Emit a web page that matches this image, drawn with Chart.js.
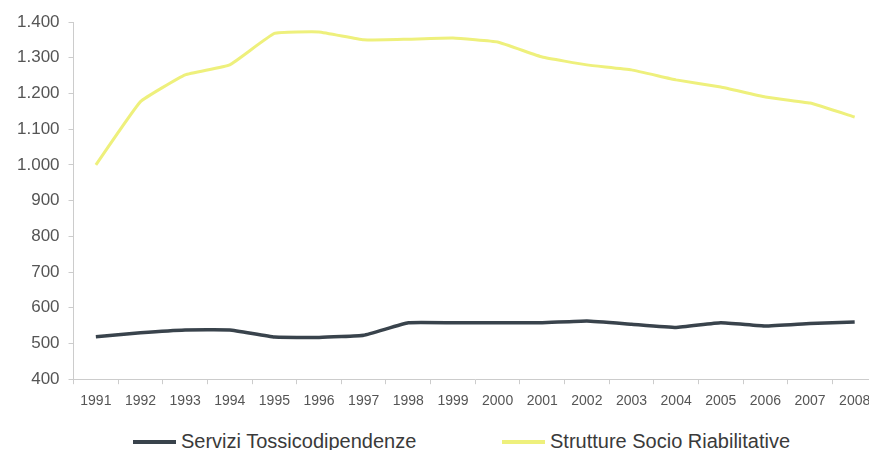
<!DOCTYPE html>
<html>
<head>
<meta charset="utf-8">
<script src="https://cdn.jsdelivr.net/npm/chart.js@4/dist/chart.umd.min.js"></script>
<style>
  html, body { margin: 0; padding: 0; background: #fff; overflow: hidden; }
  #wrap { position: relative; width: 880px; height: 450px; }
  #legend { position: absolute; left: 0; top: 429px; width: 880px; height: 24px;
    font-family: 'Liberation Sans', Arial, sans-serif; font-size: 20px; color: #3a3a3a; }
  .item { position: absolute; top: 0; white-space: nowrap; line-height: 24px; }
  .swatch { display: inline-block; width: 43px; height: 4px; vertical-align: middle; margin-right: 5px; position: relative; top: -1px; }
</style>
</head>
<body>
<div id="wrap">
  <canvas id="myChart" width="880" height="420"></canvas>
  <div id="legend"></div>
</div>
<script>
// anni
let years = ["1991","1992","1993","1994","1995","1996","1997","1998","1999",
  "2000","2001","2002","2003","2004","2005","2006","2007","2008"];

// serie
let servizi = [519, 530, 538, 538, 518, 517, 523, 558, 558, 558, 558, 563, 554, 545, 558, 549, 556, 560];
let strutture = [1000, 1177, 1252, 1280, 1368, 1372, 1350, 1352, 1355, 1344, 1302, 1280, 1266, 1238, 1218, 1190, 1173, 1134];

let seriesNames = ["Servizi Tossicodipendenze", "Strutture Socio Riabilitative"];
let seriesColors = ["#39434c", "#eef07c"];

// asse y
let yMin = 400;
let yMax = 1400;
let yStep = 100;

const font = "'Liberation Sans', Arial, sans-serif";

const ctx = document.getElementById("myChart").getContext("2d");
const chart = new Chart(ctx, {
  type: "line",
  data: {
    labels: years,
    datasets: [{
      label: seriesNames[0],
      data: servizi,
      borderColor: seriesColors[0],
      backgroundColor: seriesColors[0],
      borderWidth: 3.5,
      pointRadius: 0,
      tension: 0.1
    }, {
      label: seriesNames[1],
      data: strutture,
      borderColor: seriesColors[1],
      backgroundColor: seriesColors[1],
      borderWidth: 3,
      pointRadius: 0,
      tension: 0.1
    }]
  },
  options: {
    responsive: false,
    animation: false,
    layout: { padding: { top: 22, right: 3, left: 8, bottom: 1 } },
    plugins: {
      tooltip: { enabled: false },
      legend: { display: false }
    },
    scales: {
      x: {
        offset: true,
        grid: { offset: true, drawOnChartArea: false, drawTicks: true, tickLength: 5, color: "#cccccc" },
        border: { color: "#cccccc" },
        ticks: {
          color: "#555",
          padding: 9,
          maxRotation: 0,
          autoSkip: false,
          font: { family: font, size: 14 }
        }
      },
      y: {
        min: yMin,
        max: yMax,
        grid: { drawOnChartArea: false, drawTicks: true, tickLength: 5, color: "#cccccc" },
        border: { color: "#cccccc" },
        ticks: {
          stepSize: yStep,
          color: "#555",
          padding: 9,
          font: { family: font, size: 17 },
          callback: (v) => v.toString().replace(/\B(?=(\d{3})+(?!\d))/g, ".")
        }
      }
    }
  }
});

// legenda (testo vero, fuori dal canvas)
let legendX = [133, 502];
const legend = document.getElementById("legend");
seriesNames.forEach((name, i) => {
  const item = document.createElement("div");
  item.className = "item";
  item.style.left = legendX[i] + "px";
  const sw = document.createElement("span");
  sw.className = "swatch";
  sw.style.background = seriesColors[i];
  item.appendChild(sw);
  item.appendChild(document.createTextNode(name));
  legend.appendChild(item);
});
</script>
</body>
</html>
